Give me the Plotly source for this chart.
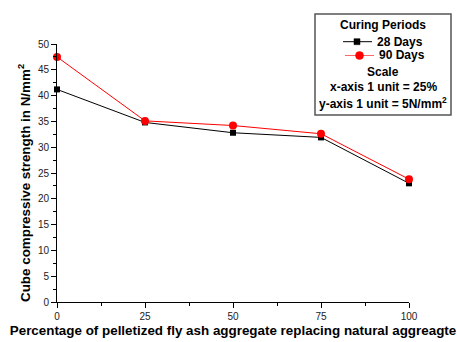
import plotly.graph_objects as go

replacement_pct = [0, 25, 50, 75, 100]
strength_28 = [41.2, 34.8, 32.8, 31.9, 23.0]
strength_90 = [47.5, 35.1, 34.2, 32.6, 23.8]

W, H = 457, 342
L, R, T, B = 57, 48, 44, 40
PW, PH = W - L - R, H - T - B

def px(x):
    return (x - L) / PW

def py(y):
    return (H - B - y) / PH

FONT = "Liberation Sans, Arial, sans-serif"

fig = go.Figure()
fig.add_trace(go.Scatter(
    x=replacement_pct, y=strength_28, mode="lines+markers", name="28 Days",
    line=dict(color="black", width=1), marker=dict(symbol="square", size=6, color="black"),
    cliponaxis=False, showlegend=False))
fig.add_trace(go.Scatter(
    x=replacement_pct, y=strength_90, mode="lines+markers", name="90 Days",
    line=dict(color="red", width=1), marker=dict(symbol="circle", size=8, color="red"),
    cliponaxis=False, showlegend=False))

axis_common = dict(
    showline=True, linecolor="black", linewidth=1, mirror=False,
    ticks="outside", ticklen=5, tickcolor="black", tickwidth=1,
    showgrid=False, zeroline=False, automargin=False,
    tickfont=dict(family=FONT, size=10, color="#222"),
)

fig.update_xaxes(
    range=[0, 100], tickvals=[0, 25, 50, 75, 100],
    minor=dict(dtick=12.5, tick0=0, ticks="outside", ticklen=3, tickcolor="black"),
    title=dict(text="<b>Percentage of pelletized fly ash aggregate replacing natural aggreagte</b>",
               font=dict(family=FONT, size=13.4, color="black"), standoff=4),
    **axis_common)
fig.update_yaxes(
    range=[0, 50], tickvals=[0, 5, 10, 15, 20, 25, 30, 35, 40, 45, 50],
    minor=dict(dtick=2.5, tick0=0, ticks="outside", ticklen=3, tickcolor="black"),
    **axis_common)

def ann(text, x, y, xanchor="center", size=12, angle=0):
    return dict(text=text, x=px(x), y=py(y), xref="paper", yref="paper", xanchor=xanchor,
                yanchor="middle", showarrow=False, textangle=angle,
                font=dict(family=FONT, size=size, color="black"))

CX = 383
shapes = [
    dict(type="rect", xref="paper", yref="paper",
         x0=px(315), x1=px(451), y0=py(14), y1=py(115),
         line=dict(color="#555", width=1.5), fillcolor="rgba(0,0,0,0)"),
    # legend swatch: 28 Days
    dict(type="line", xref="paper", yref="paper", x0=px(343), x1=px(372), y0=py(41.7), y1=py(41.7),
         line=dict(color="black", width=1)),
    dict(type="rect", xref="paper", yref="paper", x0=px(354), x1=px(360), y0=py(38.7), y1=py(44.7),
         line=dict(color="black", width=0.5), fillcolor="black"),
    # legend swatch: 90 Days
    dict(type="line", xref="paper", yref="paper", x0=px(345), x1=px(374), y0=py(55.5), y1=py(55.5),
         line=dict(color="#f66", width=1)),
    dict(type="circle", xref="paper", yref="paper", x0=px(355.5), x1=px(363.5), y0=py(51.5), y1=py(59.5),
         line=dict(color="red", width=0.5), fillcolor="red"),
]

fig.update_layout(
    width=W, height=H,
    margin=dict(l=L, r=R, t=T, b=B, pad=0, autoexpand=False),
    paper_bgcolor="white", plot_bgcolor="white",
    font=dict(family=FONT, size=11, color="black"),
    showlegend=False,
    shapes=shapes,
    annotations=[
        ann("<b>Cube compressive strength in N/mm<sup>2</sup></b>", 24, 183, size=13.4, angle=-90),
        ann("<b>Curing Periods</b>", CX, 25),
        ann("<b>28 Days</b>", 375, 41.7, "left"),
        ann("<b>90 Days</b>", 377, 55.5, "left"),
        ann("<b>Scale</b>", CX, 71.7),
        ann("<b>x-axis 1 unit = 25%</b>", CX, 87.3),
        ann("<b>y-axis 1 unit = 5N/mm<sup>2</sup></b>", CX, 102.7),
    ],
)

fig.write_html("out.html", config={"displayModeBar": False},
               post_script="document.body.style.margin='0';document.body.style.overflow='hidden';")
